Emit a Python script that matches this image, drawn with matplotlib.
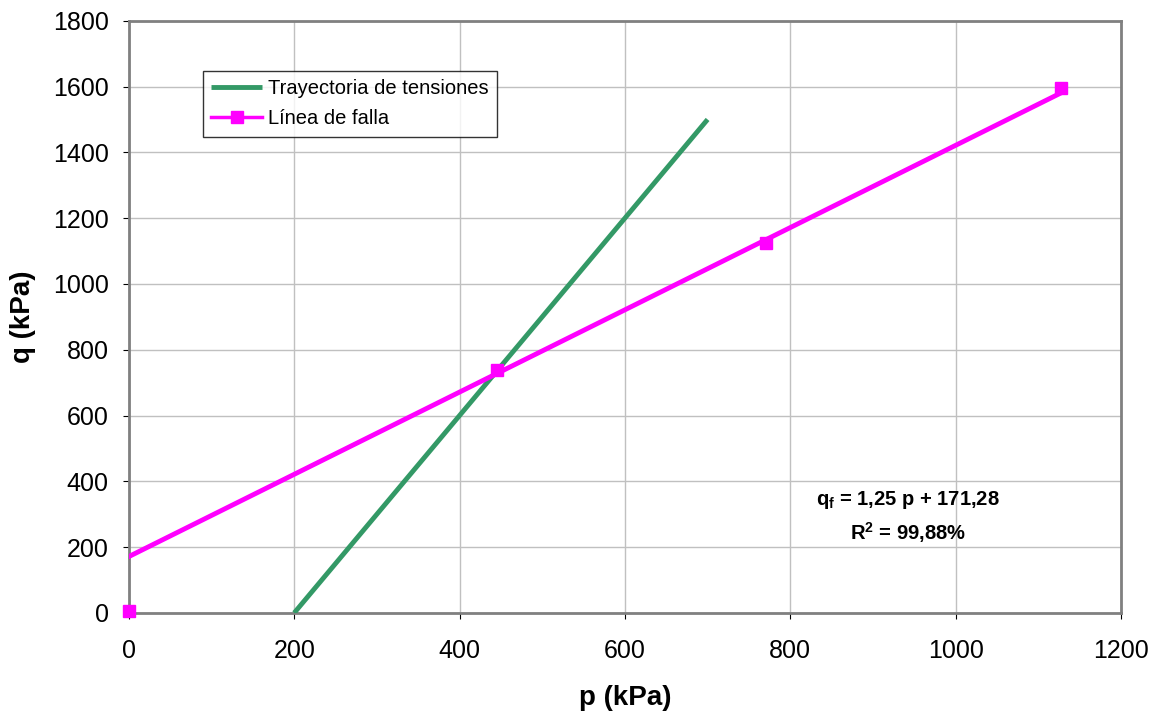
import matplotlib
matplotlib.use("Agg")
import matplotlib.pyplot as plt
import numpy as np

plt.rcParams['font.family'] = ['Liberation Sans', 'DejaVu Sans']
plt.rcParams['mathtext.fontset'] = 'custom'
plt.rcParams['mathtext.rm'] = 'Liberation Sans'
plt.rcParams['mathtext.bf'] = 'Liberation Sans:bold'
plt.rcParams['mathtext.it'] = 'Liberation Sans:italic'

# stress path (trayectoria de tensiones)
path_p = [200, 700]
path_q = [0, 1500]

# failure points (linea de falla)
fail_p = [0, 445, 771, 1127]
fail_q = [5, 737, 1124, 1595]

# fitted failure line q = a p + b
slope = 1.25
intercept = 171.28

fig = plt.figure(figsize=(11.61, 7.16), dpi=100)
ax = fig.add_axes([0.111, 0.144, 0.8545, 0.827])

fit_p = np.array([fail_p[0], fail_p[-1]])
fit_q = slope * fit_p + intercept

ax.plot(path_p, path_q, color="#339966", linewidth=3.5, solid_capstyle="butt",
        label="Trayectoria de tensiones", zorder=3)
ax.plot(fit_p, fit_q, color="#FF00FF", linewidth=3.5, zorder=4)
ax.plot(fail_p, fail_q, linestyle="none", marker="s", markersize=9,
        color="#FF00FF", zorder=5, clip_on=False)
# legend proxy for line + marker
ax.plot([], [], color="#FF00FF", linewidth=2.5, marker="s", markersize=8,
        label="Línea de falla")

ax.set_xlim(0, 1200)
ax.set_ylim(0, 1800)
ax.set_xticks(np.arange(0, 1201, 200))
ax.set_yticks(np.arange(0, 1801, 200))
ax.grid(True, color="#c0c0c0", linewidth=1)
ax.set_axisbelow(True)
for s in ax.spines.values():
    s.set_color("#808080")
    s.set_linewidth(2)
ax.tick_params(axis="both", labelsize=18, length=4.5, direction="out",
               color="black")
ax.tick_params(axis="x", pad=14)
ax.tick_params(axis="y", pad=10)

ax.set_xlabel("p (kPa)", fontsize=20, fontweight="bold", labelpad=16)
ax.set_ylabel("q (kPa)", fontsize=20, fontweight="bold", labelpad=12)

ax.text(0.785, 0.19, r"$\mathbf{q_f}$" + " = 1,25 p + 171,28",
        transform=ax.transAxes, ha="center", va="center", fontsize=14.5,
        fontweight="bold")
ax.text(0.785, 0.135, r"$\mathbf{R^2}$" + " = 99,88%",
        transform=ax.transAxes, ha="center", va="center", fontsize=14.5,
        fontweight="bold")

leg = ax.legend(loc="upper left", bbox_to_anchor=(0.0746, 0.9154), fontsize=14.5,
                frameon=True, fancybox=False, edgecolor="black",
                handlelength=2.5, borderpad=0.42, labelspacing=0.55,
                handletextpad=0.3, borderaxespad=0)
leg.get_frame().set_linewidth(1)

fig.savefig("out.png", dpi=100)
